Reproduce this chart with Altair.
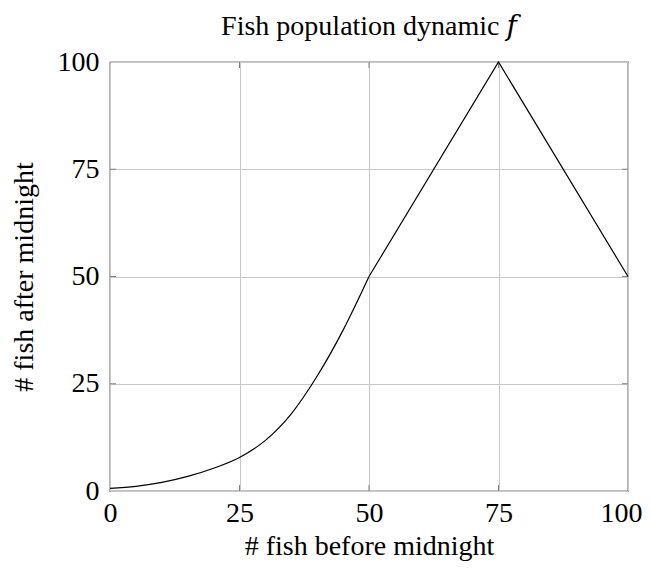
import altair as alt
import pandas as pd

# Curved part of f (0..50) and linear part (50..100)
curve_x = [0, 5, 10, 15, 20, 25, 30, 35, 40, 45, 50]
curve_y = [0.6, 1.1, 2.0, 3.4, 5.3, 7.8, 11.8, 18.0, 26.8, 37.5, 50]
linear_x = [50, 75, 100]
linear_y = [50, 100, 50]
tick_values = [0, 25, 50, 75, 100]

curve_df = pd.DataFrame({"x": curve_x, "y": curve_y})
linear_df = pd.DataFrame({"x": linear_x, "y": linear_y})
ticks_df = pd.DataFrame({"t": tick_values[1:-1]})

W, H = 518, 429
FONT = "Liberation Serif"
FS = 28

xscale = alt.Scale(domain=[0, 100], nice=False, zero=False)
yscale = alt.Scale(domain=[0, 100], nice=False, zero=False)

xenc = alt.X("x:Q", scale=xscale,
             axis=alt.Axis(values=tick_values, title="# fish before midnight",
                          labelFlush=False, labelPadding=8, titlePadding=5,
                          labelOffset=alt.condition("datum.value == 100",
                                                    alt.value(-7), alt.value(0))))
yenc = alt.Y("y:Q", scale=yscale,
             axis=alt.Axis(values=tick_values, title="# fish after midnight",
                          labelFlush=False, labelPadding=11, titlePadding=19))

curve = alt.Chart(curve_df).mark_line(color="black", strokeWidth=1.2,
                                      interpolate="monotone").encode(x=xenc, y=yenc)
linear = alt.Chart(linear_df).mark_line(color="black", strokeWidth=1.2).encode(
    x=alt.X("x:Q", scale=xscale), y=alt.Y("y:Q", scale=yscale))

tick_color = "#7f7f7f"
bottom_ticks = alt.Chart(ticks_df).mark_rule(color=tick_color, strokeWidth=1).encode(
    x=alt.X("t:Q", scale=xscale), y=alt.value(H), y2=alt.value(H - 6))
top_ticks = alt.Chart(ticks_df).mark_rule(color=tick_color, strokeWidth=1).encode(
    x=alt.X("t:Q", scale=xscale), y=alt.value(0), y2=alt.value(6))
left_ticks = alt.Chart(ticks_df).mark_rule(color=tick_color, strokeWidth=1).encode(
    y=alt.Y("t:Q", scale=yscale), x=alt.value(0), x2=alt.value(6))
right_ticks = alt.Chart(ticks_df).mark_rule(color=tick_color, strokeWidth=1).encode(
    y=alt.Y("t:Q", scale=yscale), x=alt.value(W), x2=alt.value(W - 6))

chart = alt.layer(bottom_ticks, top_ticks, left_ticks, right_ticks, curve, linear).properties(
    width=W, height=H,
    title=alt.TitleParams("Fish population dynamic 𝑓", font="Liberation Serif, DejaVu Serif",
                          fontSize=FS, fontWeight="normal", color="black",
                          anchor="middle", offset=7),
    autosize="none",
    padding={"left": 102, "top": 54, "right": 14, "bottom": 70},
).configure_view(
    stroke="black", strokeWidth=1.2
).configure_axis(
    labelFont=FONT, labelFontSize=FS, labelColor="black",
    titleFont=FONT, titleFontSize=FS, titleFontWeight="normal", titleColor="black",
    domain=False, ticks=False, grid=True, gridColor="#c8c8c8", gridWidth=1,
)

chart.save("out.html", embed_options={"renderer": "svg", "actions": False})
